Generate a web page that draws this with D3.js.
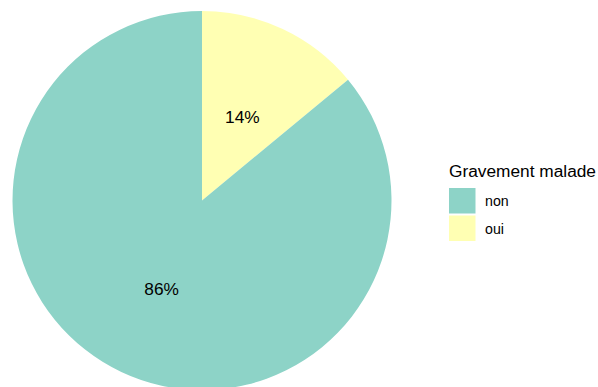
<!DOCTYPE html>
<html><head><meta charset="utf-8">
<script src="https://cdn.jsdelivr.net/npm/d3@7"></script>
<style>body{margin:0;background:#fff}svg{display:block}text{font-family:"Liberation Sans",Arial,sans-serif}</style>
</head><body>
<svg id="c" width="598" height="387"></svg>
<script>
const categories = ["non", "oui"];
const values = [86, 14];
const labels = ["86%", "14%"];
const colors = ["#8DD3C7", "#FFFFB3"];
const legendTitle = "Gravement malade";

const svg = d3.select("#c");
const cx = 202, cy = 200.5, R = 189.5;
const color = d3.scaleOrdinal().domain(categories).range(colors);

const data = categories.map((c, i) => ({cat: c, value: values[i], label: labels[i]}));
// ggplot stacks the last level first from 12 o'clock clockwise
const pie = d3.pie().value(d => d.value).sort(null);
const arcs = pie(data.slice().reverse());
const arc = d3.arc().innerRadius(0).outerRadius(R);
const labelArc = d3.arc().innerRadius(R * 0.5).outerRadius(R * 0.5);

const g = svg.append("g").attr("transform", `translate(${cx},${cy})`);
g.selectAll("path").data(arcs).join("path")
  .attr("d", arc).attr("fill", d => color(d.data.cat));
g.selectAll("text").data(arcs).join("text")
  .attr("transform", d => { const c = labelArc.centroid(d); return `translate(${c[0]},${c[1]})`; })
  .attr("text-anchor", "middle").attr("dy", "0.5em")
  .attr("font-size", 17.3).attr("fill", "#000")
  .text(d => d.data.label);

const lg = svg.append("g").attr("transform", "translate(449,0)");
lg.append("text").attr("x", 0).attr("y", 177).attr("font-size", 17.3).attr("fill", "#000").text(legendTitle);
const items = lg.selectAll("g.k").data(data).join("g").attr("class", "k")
  .attr("transform", (d, i) => `translate(0,${188 + i * 27.5})`);
items.append("rect").attr("x", 0).attr("y", 0).attr("width", 26.5).attr("height", 25.5)
  .attr("fill", d => color(d.cat));
items.append("text").attr("x", 36).attr("y", 13).attr("dy", "0.36em")
  .attr("font-size", 14.2).attr("fill", "#000").text(d => d.cat);
</script>
</body></html>
